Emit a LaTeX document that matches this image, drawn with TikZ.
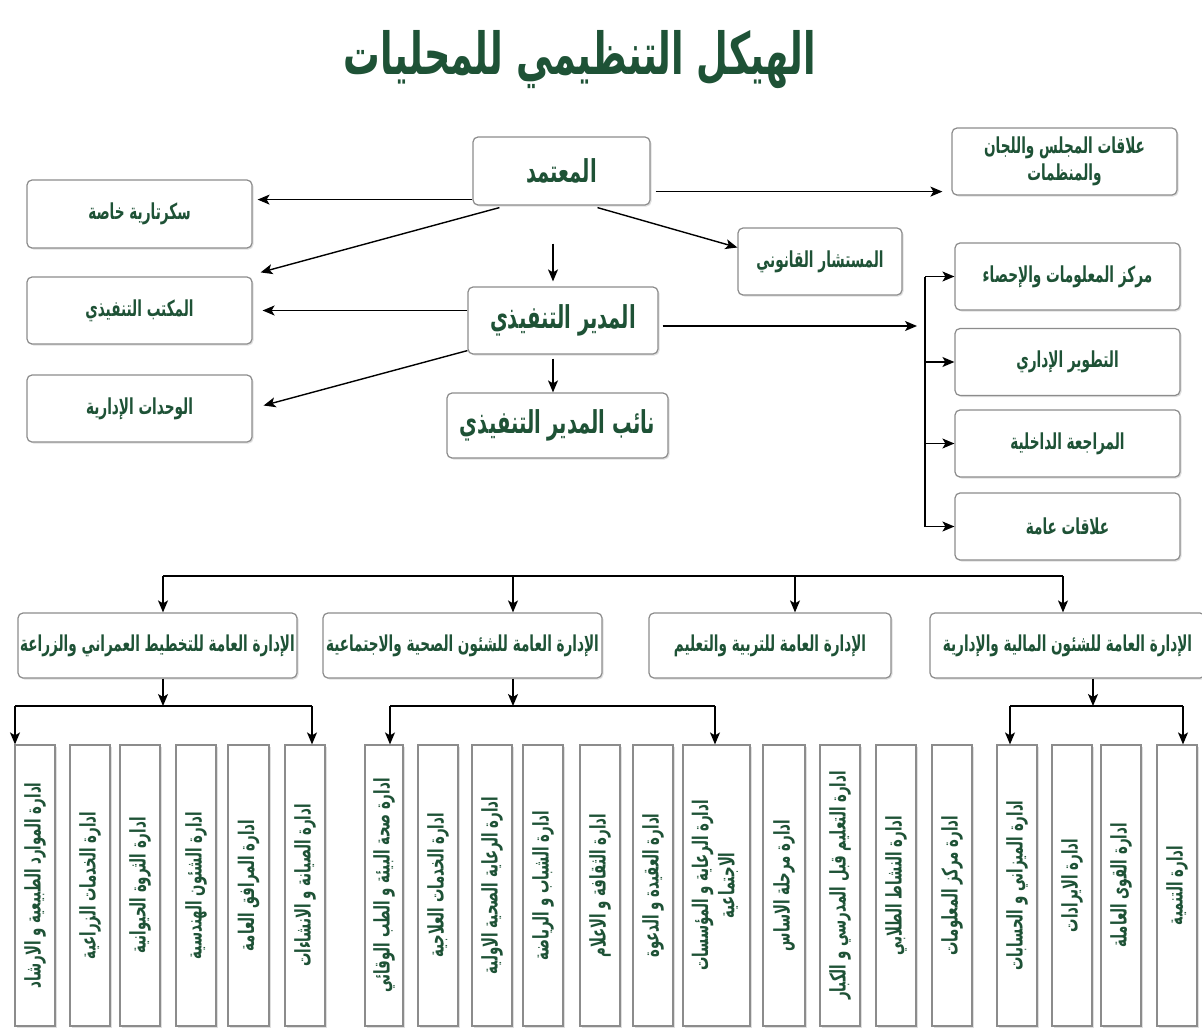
\documentclass[tikz,border=0pt]{standalone}
\usepackage{fontspec}
\usepackage{graphicx}
\usetikzlibrary{arrows.meta,shadows,calc}
\TeXXeTstate=1
\newfontfamily\arabicfont[Script=Arabic,FakeStretch=0.62]{DejaVu Sans}
\newfontfamily\arabictitle[Script=Arabic,FakeStretch=0.63]{DejaVu Sans}
\newcommand{\artext}[1]{\beginR #1\endR}
\definecolor{txtgreen}{RGB}{30,82,54}
\definecolor{boxline}{RGB}{140,140,140}
\begin{document}
\begin{tikzpicture}[x=1pt,y=-1pt,
  box/.style={draw=boxline, line width=1.2pt, rounded corners=5pt, fill=white,
    drop shadow={shadow xshift=1.5pt, shadow yshift=-1.5pt, opacity=0.25},
    inner sep=2pt, text=txtgreen, align=center},
  big/.style={font=\arabicfont\bfseries\fontsize{31.5}{35}\selectfont},
  mid/.style={font=\arabicfont\bfseries\fontsize{22}{27}\selectfont},
  lvl/.style={font=\arabicfont\bfseries\fontsize{21.9}{25}\selectfont, minimum height=65pt},
  col/.style={draw=boxline, line width=1.2pt, fill=white,
    drop shadow={shadow xshift=1.5pt, shadow yshift=-1.5pt, opacity=0.25},
    inner sep=0pt, text=txtgreen, minimum height=281pt,
    font=\arabicfont\bfseries\fontsize{21.5}{23}\selectfont},
  line/.style={line width=1.4pt, black},
  arr/.style={line, -{Stealth[length=12pt,width=10pt,inset=3pt]}}
]
\fill[white] (0,0) rectangle (1202,1030);
\useasboundingbox (0,0) rectangle (1202,1030);

% title
\node[text=txtgreen, font=\arabictitle\bfseries\fontsize{58}{64}\selectfont] (title) at (580,60)
  {\artext{الهيكل التنظيمي للمحليات}};

% upper management
\node[box, big, minimum width=177pt, minimum height=68pt] (mutamad) at (561.5,171) {\artext{المعتمد}};
\node[box, big, minimum width=190pt, minimum height=67pt] (ceo) at (563,320.5) {\artext{المدير التنفيذي}};
\node[box, big, minimum width=221pt, minimum height=65pt] (deputy) at (557.5,425.5) {\artext{نائب المدير التنفيذي}};

\node[box, mid, minimum width=225pt, minimum height=68pt] (sec) at (139.5,214) {\artext{سكرتارية خاصة}};
\node[box, mid, minimum width=225pt, minimum height=67pt] (eo) at (139.5,310.5) {\artext{المكتب التنفيذي}};
\node[box, mid, minimum width=225pt, minimum height=67pt] (units) at (139.5,408.5) {\artext{الوحدات الإدارية}};

\node[box, mid, minimum width=164pt, minimum height=67pt] (legal) at (820,261.5) {\artext{المستشار القانوني}};
\node[box, mid, minimum width=225pt, minimum height=67pt] (council) at (1064.5,161.5)
  {\artext{علاقات المجلس واللجان}\\\artext{والمنظمات}};

\node[box, mid, minimum width=225pt, minimum height=67pt] (info) at (1067.5,276.5) {\artext{مركز المعلومات والإحصاء}};
\node[box, mid, minimum width=225pt, minimum height=67pt] (dev) at (1067.5,362) {\artext{التطوير الإداري}};
\node[box, mid, minimum width=225pt, minimum height=67pt] (audit) at (1067.5,443.5) {\artext{المراجعة الداخلية}};
\node[box, mid, minimum width=225pt, minimum height=67pt] (pr) at (1067.5,526.5) {\artext{علاقات عامة}};

% general directorates
\node[box, lvl, minimum width=279pt] (g1) at (157.5,645.5) {\artext{الإدارة العامة للتخطيط العمراني والزراعة}};
\node[box, lvl, minimum width=279pt] (g2) at (462.5,645.5) {\artext{الإدارة العامة للشئون الصحية والاجتماعية}};
\node[box, lvl, minimum width=242pt] (g3) at (770,645.5) {\artext{الإدارة العامة للتربية والتعليم}};
\node[box, lvl, minimum width=275pt] (g4) at (1067.5,645.5) {\artext{الإدارة العامة للشئون المالية والإدارية}};

% departments
\foreach \n/\x/\w/\t in {
  c1/35/40/{ادارة الموارد الطبيعية و الارشاد},
  c2/90/40/{ادارة الخدمات الزراعية},
  c3/140/40/{ادارة الثروة الحيوانية},
  c4/196/40/{ادارة الشئون الهندسية},
  c5/248.5/41/{ادارة المرافق العامة},
  c6/305/40/{ادارة الصيانة و الانشاءات},
  d1/384/38/{ادارة صحة البيئة و الطب الوقائي},
  d2/438/40/{ادارة الخدمات العلاجية},
  d3/492/40/{ادارة الرعاية الصحية الاولية},
  d4/543/40/{ادارة الشباب و الرياضة},
  d5/600/40/{ادارة الثقافة و الاعلام},
  d6/653/40/{ادارة العقيدة و الدعوة},
  e1/784/42/{ادارة مرحلة الاساس},
  e2/840/40/{ادارة التعليم قبل المدرسي و الكبار},
  e3/896/40/{ادارة النشاط الطلابي},
  e4/952/40/{ادارة مركز المعلومات},
  f1/1017/40/{ادارة الميزاني و الحسابات},
  f2/1072/40/{ادارة الايرادات},
  f3/1121/40/{ادارة القوى العاملة},
  f4/1177/40/{ادارة التنمية}}
  \node[col, minimum width=\w pt] (\n) at (\x,885.5) {\rotatebox{90}{\artext{\t}}};
\node[col, minimum width=67pt] (d7) at (716.5,885.5)
  {\rotatebox{90}{\begin{tabular}{@{}c@{}}\artext{ادارة الرعاية و المؤسسات}\\[3pt]\artext{الاجتماعية}\end{tabular}}};

% connectors from the commissioner
\coordinate (m1) at ([yshift=6pt]mutamad.south west);
\draw[arr, shorten >=5pt] (m1) -- (m1 -| sec.east);
\draw[arr] ([xshift=27pt,yshift=-2pt]mutamad.south west) -- ([xshift=8pt,yshift=4pt]eo.north east);
\draw[arr] ([xshift=36pt,yshift=-2pt]mutamad.south) -- ([yshift=14pt]legal.west);
\coordinate (m2) at ([xshift=5pt,yshift=14pt]mutamad.south east);
\draw[arr, shorten >=9pt] (m2) -- (m2 -| council.west);
\draw[arr] ([xshift=-8.5pt,yshift=-38pt]mutamad.south) -- ([xshift=-10pt,yshift=5pt]ceo.north);

% connectors from the executive director
\coordinate (e1) at ([yshift=10pt]ceo.west);
\draw[arr, shorten >=10pt] (e1) -- (e1 -| eo.east);
\draw[arr] ([yshift=4pt]ceo.south west) -- ([xshift=11pt,yshift=3pt]units.east);
\draw[arr] ([xshift=-10pt,yshift=-4pt]ceo.south) -- ([xshift=-10pt]ceo.south |- deputy.north);
\coordinate (rbus) at (925,326);
\draw[arr] ([xshift=4pt,yshift=-5.5pt]ceo.east) -- ([xshift=-8pt]rbus);
\draw[line] (rbus |- info.west) -- (rbus |- pr.west);
\foreach \n in {info,dev,audit,pr} \draw[arr] (rbus |- \n.west) -- (\n.west);

% bus to the general directorates
\coordinate (b1) at (163,576);
\coordinate (b2) at (513,576);
\coordinate (b3) at (795,576);
\coordinate (b4) at (1063,576);
\draw[line] (b1) -- (b4);
\foreach \b/\g in {b1/g1,b2/g2,b3/g3,b4/g4} \draw[arr] (\b) -- (\b |- \g.north);

% brackets to the departments
\coordinate (k1L) at (15,706);  \coordinate (k1M) at (163,706);  \coordinate (k1R) at (312,706);
\coordinate (k2L) at (390,706); \coordinate (k2M) at (513,706);  \coordinate (k2R) at (715,706);
\coordinate (k4L) at (1010,706);\coordinate (k4M) at (1093,706); \coordinate (k4R) at (1183,706);
\draw[arr] (k1M |- g1.south) -- (k1M);
\draw[arr] (k2M |- g2.south) -- (k2M);
\draw[arr] (k4M |- g4.south) -- (k4M);
\draw[line] (k1L) -- (k1R);
\draw[line] (k2L) -- (k2R);
\draw[line] (k4L) -- (k4R);
\draw[arr] (k1L) -- (k1L |- c1.north);
\draw[arr] (k1R) -- (k1R |- c6.north);
\draw[arr] (k2L) -- (k2L |- d1.north);
\draw[arr] (k2R) -- (k2R |- d7.north);
\draw[arr] (k4L) -- (k4L |- f1.north);
\draw[arr] (k4R) -- (k4R |- f4.north);
\end{tikzpicture}
\end{document}
